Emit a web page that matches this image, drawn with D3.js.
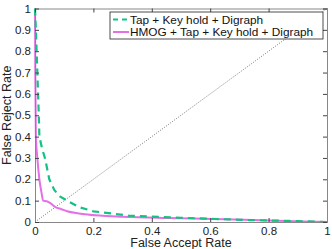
<!DOCTYPE html>
<html>
<head>
<meta charset="utf-8">
<script src="https://cdn.jsdelivr.net/npm/d3@7"></script>
<style>
body { margin: 0; background: #fff; }
svg { font-family: "Liberation Sans", Arial, sans-serif; }
</style>
</head>
<body>
<div id="chart"></div>
<script>
// ROC-style curves: false accept rate vs false reject rate
var tapFar = [0, 0.003, 0.008, 0.013, 0.015, 0.025, 0.034, 0.049, 0.066, 0.085, 0.11, 0.15, 0.2, 0.26, 0.32, 0.4, 0.5, 0.62, 0.74, 0.87, 1];
var tapFrr = [1, 0.9, 0.7, 0.5, 0.4, 0.34, 0.3, 0.2, 0.15, 0.12, 0.1, 0.07, 0.05, 0.04, 0.03, 0.025, 0.02, 0.014, 0.009, 0.005, 0];

var hmogFar = [0, 0.001, 0.003, 0.008, 0.015, 0.022, 0.028, 0.04, 0.051, 0.07, 0.09, 0.11, 0.15, 0.22, 0.3, 0.45, 0.61, 0.8, 1];
var hmogFrr = [1, 0.7, 0.4, 0.3, 0.2, 0.14, 0.1, 0.097, 0.09, 0.07, 0.06, 0.05, 0.04, 0.03, 0.025, 0.019, 0.014, 0.007, 0];

var xTicks = [0, 0.2, 0.4, 0.6, 0.8, 1];
var yTicks = [0, 0.1, 0.2, 0.3, 0.4, 0.5, 0.6, 0.7, 0.8, 0.9, 1];
var legendLabels = ["Tap + Key hold + Digraph", "HMOG + Tap + Key hold + Digraph"];

var margin = { top: 8.5, right: 5, bottom: 27, left: 35 },
	width = 332 - margin.left - margin.right,
	height = 249 - margin.top - margin.bottom;

var x = d3.scaleLinear().domain([0, 1]).range([0, width]);
var y = d3.scaleLinear().domain([0, 1]).range([height, 0]);

var svg = d3.select("#chart").append("svg")
	.attr("width", 332)
	.attr("height", 249)
	.append("g")
	.attr("transform", "translate(" + margin.left + "," + margin.top + ")");

// diagonal reference
svg.append("line")
	.attr("x1", x(0)).attr("y1", y(0))
	.attr("x2", x(1)).attr("y2", y(1))
	.style("stroke", "#555")
	.style("stroke-width", 0.8)
	.style("stroke-dasharray", "1,1.5");

var line = d3.line()
	.x(function(d) { return x(d[0]); })
	.y(function(d) { return y(d[1]); })
	.curve(d3.curveMonotoneX);

svg.append("path")
	.datum(d3.zip(hmogFar, hmogFrr))
	.attr("d", line)
	.style("fill", "none")
	.style("stroke", "#e46fe6")
	.style("stroke-width", 2);

svg.append("path")
	.datum(d3.zip(tapFar, tapFrr))
	.attr("d", line.curve(d3.curveLinear))
	.style("fill", "none")
	.style("stroke", "#13c283")
	.style("stroke-width", 2.2)
	.style("stroke-dasharray", "7,5");

// axes
var xAxis = d3.axisBottom(x).tickValues(xTicks).tickSize(-4).tickPadding(5)
	.tickFormat(function(d) { return d3.format("")(d); });
var yAxis = d3.axisLeft(y).tickValues(yTicks).tickSize(-4).tickPadding(4)
	.tickFormat(function(d) { return d3.format("")(d); });

svg.append("g")
	.attr("class", "x axis")
	.attr("transform", "translate(0," + height + ")")
	.call(xAxis);
svg.append("g")
	.attr("class", "y axis")
	.call(yAxis);
svg.append("g")
	.attr("transform", "translate(0,0)")
	.call(d3.axisTop(x).tickValues(xTicks).tickSize(-4).tickFormat(""));
svg.append("g")
	.attr("transform", "translate(" + width + ",0)")
	.call(d3.axisRight(y).tickValues(yTicks).tickSize(-4).tickFormat(""));

svg.selectAll(".domain").style("stroke", "#888");
svg.selectAll(".tick line").style("stroke", "#444");
svg.selectAll(".tick text").style("font-size", "11.5px").style("fill", "#222")
	.style("font-family", "'Liberation Sans', Arial, sans-serif");

svg.append("text")
	.attr("x", width / 2)
	.attr("y", height + 25)
	.style("text-anchor", "middle")
	.style("font-size", "12.5px")
	.style("fill", "#222")
	.text("False Accept Rate");

svg.append("text")
	.attr("transform", "rotate(-90)")
	.attr("x", -height / 2)
	.attr("y", -24)
	.style("text-anchor", "middle")
	.style("font-size", "12.5px")
	.style("fill", "#222")
	.text("False Reject Rate");

// legend
var legend = svg.append("g").attr("transform", "translate(" + (110 - margin.left) + "," + (12 - margin.top) + ")");
legend.append("rect")
	.attr("width", 213).attr("height", 27)
	.style("fill", "#fff")
	.style("stroke", "#222")
	.style("stroke-width", 0.8);
var styles = [
	{ color: "#13c283", dash: "5,4", w: 2.2 },
	{ color: "#e46fe6", dash: null, w: 2 }
];
legendLabels.forEach(function(lbl, i) {
	var ly = 7.5 + i * 12.5;
	legend.append("line")
		.attr("x1", 3).attr("x2", 19)
		.attr("y1", ly).attr("y2", ly)
		.style("stroke", styles[i].color)
		.style("stroke-width", styles[i].w)
		.style("stroke-dasharray", styles[i].dash);
	legend.append("text")
		.attr("x", 20).attr("y", ly + 4.2)
		.style("font-size", "11.8px")
		.style("fill", "#111")
		.text(lbl);
});
</script>
</body>
</html>
